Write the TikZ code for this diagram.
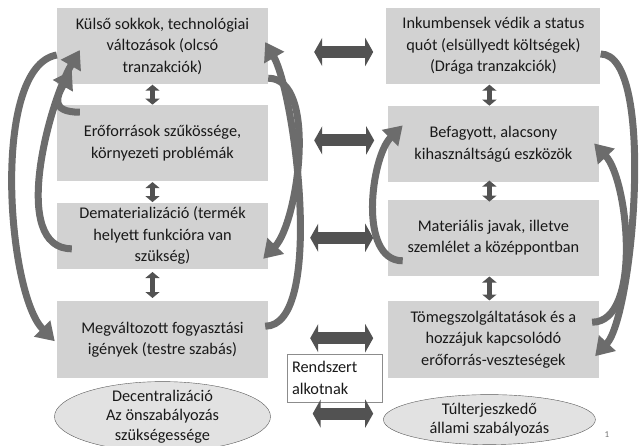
\documentclass[tikz,border=0pt]{standalone}
\usepackage{fontspec}
\setmainfont{Carlito}
\usetikzlibrary{arrows.meta,positioning,shapes.geometric}
\definecolor{boxgray}{RGB}{210,210,210}
\definecolor{ovalgray}{RGB}{226,226,226}
\definecolor{arrowgray}{RGB}{108,108,108}
\definecolor{darkarrow}{RGB}{82,82,82}

\begin{document}
\begin{tikzpicture}[x=1pt,y=1pt,
    every node/.style={font=\fontsize{16.3}{21.5}\selectfont,text=black!90},
    box/.style={fill=boxgray,align=center,minimum width=211pt,minimum height=76pt,inner sep=2pt},
    oval/.style={ellipse,fill=ovalgray,draw=black!65,align=center,inner xsep=0pt,
                 font=\fontsize{16.3}{19.5}\selectfont},
    curvy/.style={draw=arrowgray,line width=7pt,-{Triangle[width=22pt,length=18pt]}},
    wide/.style={draw=darkarrow,line width=12pt,
                 {Triangle[width=28pt,length=8pt]}-{Triangle[width=28pt,length=8pt]}},
    updown/.style={draw=darkarrow,line width=5pt,shorten <=0.5pt,shorten >=0.5pt,
                   {Triangle[width=14pt,length=6pt]}-{Triangle[width=14pt,length=6pt]}}]
  \useasboundingbox (0,0) rectangle (639,445);
  \clip (0,0) rectangle (639,445);

  % left column
  \node[box]                                   (L1) at (162.5,399) {Külső sokkok, technológiai\\változások (olcsó\\tranzakciók)};
  \node[box, below=21pt of L1]                 (L2) {Erőforrások szűkössége,\\környezeti problémák};
  \node[box, below=21pt of L2, minimum height=66pt] (L3) {Dematerializáció (termék\\helyett funkcióra van\\szükség)};
  \node[box, below=32pt of L3, minimum height=77pt] (L4) {Megváltozott fogyasztási\\igények (testre szabás)};
  \node[oval, below=3pt of L4, minimum width=216pt, minimum height=70pt, inner ysep=-5pt] (LE) {Decentralizáció\\Az önszabályozás\\szükségessége};

  % right column
  \node[box, right=118pt of L1, minimum width=214pt] (R1) {Inkumbensek védik a status\\quót (elsüllyedt költségek)\\(Drága tranzakciók)};
  \node[box, below=22pt of R1]                 (R2) {Befagyott, alacsony\\kihasználtságú eszközök};
  \node[box, below=17pt of R2]                 (R3) {Materiális javak, illetve\\szemlélet a középpontban};
  \node[box, below=25pt of R3, minimum height=77pt] (R4) {Tömegszolgáltatások és a\\hozzájuk kapcsolódó\\erőforrás-veszteségek};
  \node[oval, below=16pt of R4, xshift=-4pt, minimum width=212pt, minimum height=50pt, inner ysep=-3pt] (RE) {Túlterjeszkedő\\állami szabályozás};

  \node[draw=black!45, fill=white, align=left, text width=85pt, inner sep=5pt,
        minimum height=48pt] (RA) at (334.5,67) {Rendszert\\alkotnak};
  \node[font=\fontsize{9}{10}\selectfont, text=black!55] (pg) at (607,10) {1};

  % links between the columns
  \draw[wide, shorten <=46pt, shorten >=13pt] ([yshift=-6pt]L1.east) -- ([yshift=-6pt]L1.east -| R1.west);
  \draw[wide, shorten <=46pt, shorten >=13.5pt] ([yshift=3pt]L2.east) -- ([yshift=3pt]L2.east -| R2.west);
  \draw[wide, shorten <=42pt, shorten >=14.5pt] ([yshift=-2pt]L3.east) -- ([yshift=-2pt]L3.east -| R3.west);
  \draw[wide, shorten <=42pt, shorten >=14.5pt] ([yshift=1.5pt]L4.east) -- ([yshift=1.5pt]L4.east -| R4.west);
  \draw[wide, shorten <=42pt, shorten >=10pt] ([yshift=3pt]LE.east) -- ([yshift=3pt]LE.east -| RE.west);

  % links inside the columns
  \draw[updown] ([xshift=-10pt]L1.south) -- ([xshift=-10pt]L2.north);
  \draw[updown] ([xshift=-10pt]L2.south) -- ([xshift=-10pt]L3.north);
  \draw[updown, shorten <=3pt, shorten >=3pt] ([xshift=-10pt]L3.south) -- ([xshift=-10pt]L4.north);
  \draw[updown] ([xshift=-4pt]R1.south) -- ([xshift=-4pt]R2.north);
  \draw[updown, shorten <=-2pt, shorten >=-2pt] ([xshift=-4pt]R2.south) -- ([xshift=-4pt]R3.north);
  \draw[updown] ([xshift=-4pt]R3.south) -- ([xshift=-4pt]R4.north);

  % feedback loops
  \draw[curvy] ([shift={(23pt,-7pt)}]L2.north west) to[out=180,in=240,looseness=1.8] ([shift={(15pt,14pt)}]L1.south west);
  \draw[curvy] ([shift={(15pt,-13pt)}]L3.west) to[out=180,in=240,looseness=0.8] ([shift={(23pt,-4pt)}]L1.west);
  \draw[curvy] ([yshift=-9pt]L1.west) to[out=190,in=135,looseness=0.6] ([shift={(-2pt,-1.5pt)}]L4.west);
  \draw[curvy] ([yshift=6pt]L1.south east) to[out=0,in=46,looseness=0.71] ([shift={(-5pt,-23pt)}]L3.east);
  \draw[curvy] ([shift={(-3pt,13.5pt)}]L4.east) to[out=0,in=300,looseness=0.54] ([shift={(-3pt,4pt)}]L1.east);
  \draw[curvy] ([shift={(15pt,-23pt)}]R3.west) to[out=180,in=225,looseness=0.85] ([shift={(15pt,19pt)}]R2.west);
  \draw[curvy] ([yshift=-8pt]R1.east) to[out=0,in=47,looseness=0.47] ([shift={(-4pt,-16.5pt)}]R4.east);
  \draw[curvy] ([shift={(-7pt,17.5pt)}]R4.east) to[out=0,in=313,looseness=0.72] ([shift={(-5pt,1pt)}]R2.east);
\end{tikzpicture}
\end{document}
